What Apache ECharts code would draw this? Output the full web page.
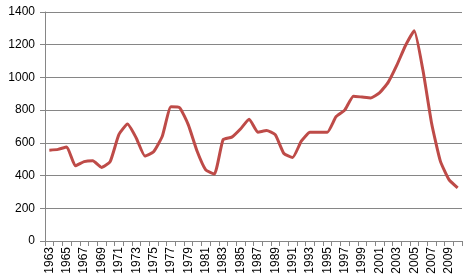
<!DOCTYPE html>
<html><head><meta charset="utf-8">
<script src="https://cdn.jsdelivr.net/npm/echarts@6/dist/echarts.min.js"></script>
<style>html,body{margin:0;padding:0;background:#fff}#c{width:476px;height:280px}</style>
</head><body><div id="c"></div>
<script>
const years = [];
for (let y = 1963; y <= 2010; y++) years.push(String(y));
const values = [555,560,575,460,485,490,450,485,650,715,630,520,545,640,820,815,710,550,435,410,620,635,685,745,665,675,650,535,510,610,665,665,665,760,800,885,880,875,905,970,1075,1195,1285,1045,720,490,375,325];
const yTicks = [0,200,400,600,800,1000,1200,1400];

const chart = echarts.init(document.getElementById('c'), null, {renderer:'canvas'});
chart.setOption({
  animation:false,
  grid:{left:45,right:14,top:12,bottom:39},
  xAxis:{type:'category',data:years,boundaryGap:true,
    axisLine:{lineStyle:{color:'#868686'}},
    axisTick:{show:true,interval:0,length:5,lineStyle:{color:'#868686'}},
    axisLabel:{interval:1,rotate:90,color:'#000',fontSize:12,fontFamily:'Liberation Sans',margin:6}},
  yAxis:{type:'value',min:yTicks[0],max:yTicks[yTicks.length-1],interval:200,
    axisLine:{show:true,lineStyle:{color:'#868686'}},
    axisTick:{show:true,length:5,lineStyle:{color:'#868686'}},
    splitLine:{lineStyle:{color:'#868686'}},
    axisLabel:{color:'#000',fontSize:12,fontFamily:'Liberation Sans',margin:10,
      formatter:function(v){return String(v);}}},
  series:[{type:'line',data:values,smooth:0.15,symbol:'none',
    lineStyle:{color:'#BE4B48',width:3}}]
});
</script></body></html>
